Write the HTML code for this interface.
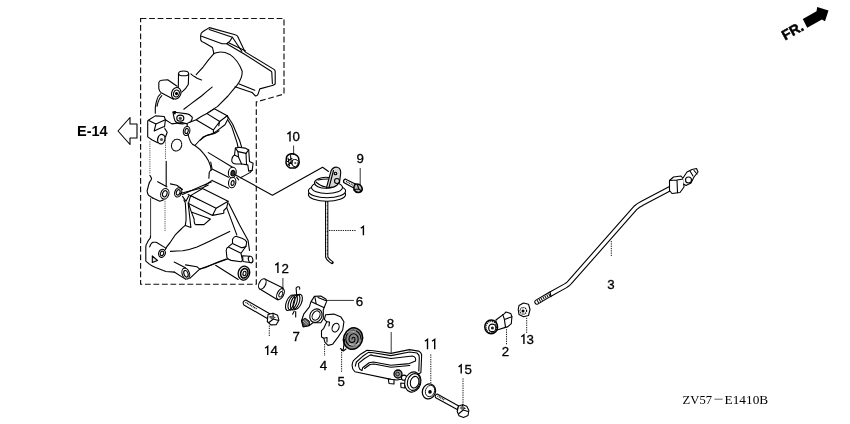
<!DOCTYPE html>
<html><head><meta charset="utf-8">
<style>
html,body{margin:0;padding:0;background:#fff;width:850px;height:424px;overflow:hidden}
svg{display:block;filter:blur(0.3px)}
text{font-family:"Liberation Sans",sans-serif;fill:#000}
.s{fill:none;stroke:#000;stroke-width:1.1;stroke-linecap:round;stroke-linejoin:round}
.w{fill:#fff;stroke:#000;stroke-width:1.1;stroke-linecap:round;stroke-linejoin:round}
.d{fill:none;stroke:#000;stroke-width:0.9;stroke-dasharray:1.3 1}
.t{fill:none;stroke:#000;stroke-width:0.8}
.lb{font-size:13.3px;stroke:#000;stroke-width:0.3}
</style></head><body>
<svg width="850" height="424" viewBox="0 0 850 424">
<!-- dashed box -->
<path d="M140.6,18.5 H284 V94 L256.3,102 V284.2 H140.6 Z" fill="none" stroke="#111" stroke-width="1.15" stroke-dasharray="5.8 2.7"/>

<!-- E-14 -->
<text x="77" y="136" style="font-size:14.5px;font-weight:bold">E-14</text>
<path class="s" d="M118,131 L130,117.5 V124 H137 V138 H130 V144.5 Z"/>

<!-- FR arrow -->
<text x="0" y="0" transform="translate(785,40.5) rotate(-29)" style="font-size:14px;font-weight:bold;stroke:#000;stroke-width:0.5">FR.</text>
<path d="M802.8,18.9 L816.5,11.2 L817.2,7.1 L828.5,10.4 L825,21.2 L821.9,19.5 L807.2,27.7 Z" fill="#000"/>

<!-- ZV57 text -->
<g style="font-family:'Liberation Serif',serif;font-size:12.6px"><text x="682.6" y="403.5" textLength="29.4" lengthAdjust="spacingAndGlyphs" style="font-family:'Liberation Serif',serif">ZV57</text>
<text x="724.6" y="403.5" textLength="43.6" lengthAdjust="spacingAndGlyphs" style="font-family:'Liberation Serif',serif">E1410B</text></g>
<path d="M714.4,399.2 H722.6" stroke="#555" stroke-width="0.9"/>

<!-- labels -->
<text class="lb" x="292.6" y="141.4">0</text>
<text class="lb" x="356.6" y="163.4">9</text>
<text class="lb" x="607.2" y="289.0">3</text>
<text class="lb" x="281.4" y="273.0">2</text>
<text class="lb" x="355.7" y="305.5">6</text>
<text class="lb" x="292.5" y="341.2">7</text>
<text class="lb" x="270.5" y="355.1">4</text>
<text class="lb" x="319.8" y="370.2">4</text>
<text class="lb" x="337.4" y="385.7">5</text>
<text class="lb" x="386.7" y="327.6">8</text>
<text class="lb" x="464.4" y="374.0">5</text>
<text class="lb" x="501.7" y="356.4">2</text>
<text class="lb" x="526.4" y="343.9">3</text>
<g fill="none" stroke="#000" stroke-width="1.4" stroke-linecap="butt" stroke-linejoin="miter">
<path d="M287.4,134.1 L290.0,132.1 V141.4"/>
<path d="M275.3,265.1 L277.9,263.1 V273.0"/>
<path d="M265.1,348.3 L267.7,346.3 V355.0"/>
<path d="M521.3,336.8 L523.9,334.8 V343.9"/>
<path d="M360.8,228.3 L363.4,226.3 V235.2"/>
<path d="M424.9,341.3 L427.5,339.3 V349.2"/>
<path d="M432.1,341.3 L434.7,339.3 V349.2"/>
<path d="M458.6,366.9 L461.2,364.9 V373.5"/>
</g>

<!-- rod 3 -->
<path d="M537,302 L550,294.3 L566,285.5 Q568.5,284 570,282 L635.5,207.8 Q638.5,205 641.5,203.7 L670,188.6" fill="none" stroke="#000" stroke-width="5.4" stroke-linecap="round" stroke-linejoin="round"/>
<path d="M537,302 L550,294.3 L566,285.5 Q568.5,284 570,282 L635.5,207.8 Q638.5,205 641.5,203.7 L670,188.6" fill="none" stroke="#fff" stroke-width="3.2" stroke-linecap="round" stroke-linejoin="round"/>
<path d="M537.5,301.8 L550,294.5" fill="none" stroke="#000" stroke-width="3.2" stroke-dasharray="1 1.2"/>
<path class="s" d="M550,291.7 L551,296.8"/>
<!-- rod end joint -->
<path class="w" d="M669.5,180.5 L673.5,177 L681,176 L683.5,179 L684,187 L680,192.5 L672,193.5 L669.5,190.5 Z"/>
<path class="s" d="M669.5,180.5 L677,180 L683.5,179 M677,180 L677.5,192.8"/>
<path class="w" d="M683,178 L687,172 L692,169.5 L696.5,168.5 L698,172 L694,177 L691,183 L686,185.5 L683.5,184"/>
<circle class="s" cx="688.5" cy="180" r="3"/>
<path class="s" d="M690,171 L693,176 M694,170.5 L697,174"/>

<!-- part 2 -->
<path class="w" d="M495.9,320 L504.4,313.6 L506,312 L510.8,313.6 L511.9,316.8 L511.3,323.7 L507.6,326.9 L505.5,327.4 L497,330 Z"/>
<path class="s" d="M502.8,314.6 L504.4,319.4 L511.9,316.8 M504.4,319.4 L505.5,327.4"/>
<ellipse cx="491.2" cy="326.9" rx="6.4" ry="6.9" fill="#fff" stroke="#000" stroke-width="1.5"/>
<ellipse cx="491.3" cy="327" rx="5.2" ry="5.7" fill="none" stroke="#000" stroke-width="1.3" stroke-dasharray="1 1"/>
<ellipse cx="492.3" cy="327.9" rx="3.6" ry="3.8" fill="#fff" stroke="#000" stroke-width="1.2"/>
<circle cx="492.4" cy="328" r="1.5" fill="#222"/>

<!-- nut 13 -->
<path class="w" d="M519,305.5 L523.5,303 L528.5,304.2 L530,309.5 L528.5,315.5 L523.5,316.8 L519,314.5 L518.2,309.5 Z" stroke-width="1.6"/>
<circle cx="523.3" cy="310.8" r="3.3" fill="none" stroke="#000" stroke-width="1.2" stroke-dasharray="1.1 0.8"/>
<circle cx="523" cy="311" r="1.5" fill="#000"/>

<!-- washer 11 -->
<ellipse cx="428.9" cy="391.4" rx="6.5" ry="7.6" transform="rotate(20 428.9 391.4)" fill="#fff" stroke="#000" stroke-width="1.3"/>
<ellipse cx="430" cy="391" rx="4.5" ry="5.8" transform="rotate(20 430 391)" fill="none" stroke="#000" stroke-width="0.8"/>
<circle cx="430" cy="391.9" r="1.8" fill="#000"/>

<!-- bolt 15 -->
<path class="w" d="M437.2,394 L458.7,406.1 L457.2,409.5 L435.7,397.8 Q434.2,395.3 437.2,394 Z" stroke-width="1.2"/>
<path d="M437.5,396 L444.5,400" fill="none" stroke="#000" stroke-width="1.3" stroke-dasharray="0.9 0.8"/>
<path class="w" d="M458.5,406 L462.5,404.8 L466.8,406.3 L468.9,410.5 L468,415.5 L463.5,417.4 L459,415.8 L457.2,411.5 Z" stroke-width="1.4"/>
<path class="s" d="M462.5,404.8 L463.2,410 L468,411.5 M463.2,410 L459,413.5 M461,407 L465,408.5" stroke-width="0.9"/>
<path d="M459.5,408 L462.5,406 L465,407.5 L462,410 Z" fill="#666"/>

<!-- nut 10 -->
<path d="M286.5,157 Q288,154 292,153.8 Q296.5,154 298.5,157.5 L299.2,162.5 Q298.5,166.5 295,168 L290,168 Q286.5,166.5 286,163 Z" fill="#fff" stroke="#000" stroke-width="1.5"/>
<path class="s" d="M288,158 L289.5,166 M290.5,155.5 L291.5,164 M287.5,161.5 Q290,159 292,158.5 M288,165 L291,162" stroke-width="1"/>
<path d="M292.5,160 Q296.5,158.5 298.3,161.5 Q298.5,165.5 295.5,166.8 Q292.5,167 292,164 Z" fill="#fff" stroke="#000" stroke-width="1"/>
<circle cx="295.3" cy="163" r="1.1" fill="#555"/>

<!-- bolt 9 -->
<path d="M345.2,179 L355.8,184.3 L354.2,188.2 L343.8,182.6 Q342.8,180.2 345.2,179 Z" fill="#fff" stroke="#000" stroke-width="1.2"/>
<path d="M346,181.5 L353.5,185.3" fill="none" stroke="#000" stroke-width="1.2" stroke-dasharray="0.9 0.9"/>
<path d="M355,184.2 Q357,183.6 359.5,184.5 Q362.4,186.5 362.3,189.5 Q361.5,192.3 358.5,192.6 Q355.5,192.4 354,190 Q353.3,187 355,184.2 Z" fill="#bbb" stroke="#000" stroke-width="1.5"/>
<path class="s" d="M357.5,185 L358.8,189 L361.5,191 M358.8,189 L354.3,189.5" stroke-width="0.9"/>

<!-- bolt 14 -->
<path class="w" d="M245.8,300 L270.2,314 L267.3,318.5 L243.8,304.9 Q241.8,301.5 245.8,300 Z" stroke-width="1.2"/>
<path d="M245.5,302.3 L257,309" fill="none" stroke="#000" stroke-width="1.4" stroke-dasharray="0.9 0.8"/>
<path class="w" d="M268,314.5 L273,313.2 L277.6,315.3 L278.9,320.2 L276.2,324.7 L270.8,324.9 L267.3,321.5 Z" stroke-width="1.4"/>
<path class="s" d="M273,313.2 L273.3,319 L278.5,320.5 M273.3,319 L269,322.5 M270,316.5 L275,317.5" stroke-width="0.9"/>
<path d="M269,317 L272.5,315.5 L275,317.5 L271.5,319.5 Z" fill="#666"/>

<!-- collar 12 -->
<path class="w" d="M264.7,279 L283,288 L278,300 L259.8,289 Z"/>
<ellipse cx="262.3" cy="284" rx="3.2" ry="5.5" transform="rotate(27 262.3 284)" fill="#fff" stroke="#000" stroke-width="1.1"/>
<ellipse cx="280.5" cy="294" rx="3.2" ry="5.8" transform="rotate(27 280.5 294)" fill="#fff" stroke="#000" stroke-width="1.1"/>
<ellipse cx="280.8" cy="294.3" rx="1.6" ry="3" transform="rotate(27 280.8 294.3)" fill="none" stroke="#000" stroke-width="0.9"/>


<!-- part 1 -->
<path d="M326.7,199 V256.5 Q327,259 332,262.5" fill="none" stroke="#000" stroke-width="3.3" stroke-linecap="round" stroke-linejoin="round"/>
<path d="M326.7,199 V256.5 Q327,259 331.5,262" fill="none" stroke="#fff" stroke-width="1.2" stroke-linecap="round" stroke-linejoin="round" stroke-dasharray="2.5 1.2"/>
<ellipse class="w" cx="327" cy="194.5" rx="18.6" ry="6.8" stroke-width="1.3"/>
<ellipse class="w" cx="327" cy="191" rx="18.6" ry="6.8"/>
<ellipse class="w" cx="327" cy="187.5" rx="15.5" ry="6"/>
<ellipse class="w" cx="326" cy="182.8" rx="11.5" ry="5.5"/>
<path class="s" d="M316,182 Q320,186 326,187 M318,180 Q322,179 328,179"/>
<path class="w" d="M326.4,188 L331,171 Q333,166.8 337,167.2 Q341,168 340.7,173 L339.6,182.1 Q337,186 333.8,186.9 Z" stroke-width="1.3" style="fill:#d8d8d8"/>
<path class="s" d="M329,187.5 L333.5,170.5"/>
<circle class="s" cx="337" cy="181" r="2.5"/>
<circle class="s" cx="335.5" cy="173.5" r="1.3"/>
<path class="s" d="M233.8,174 L272.4,195.2 L322.6,167.2 L328.5,171.5" stroke-width="1"/>

<!-- spring 7 -->
<g class="s" stroke-width="1.15">
<ellipse cx="290.2" cy="302.8" rx="3.9" ry="8.2" transform="rotate(22 290.2 302.8)"/>
<ellipse cx="292.7" cy="302.5" rx="3.9" ry="8.2" transform="rotate(22 292.7 302.5)"/>
<ellipse cx="295.2" cy="302.2" rx="3.9" ry="8.2" transform="rotate(22 295.2 302.2)"/>
<ellipse cx="297.7" cy="301.9" rx="3.9" ry="8" transform="rotate(22 297.7 301.9)"/>
<path d="M296.6,294.3 L296.1,288 Q297.5,286.3 299.3,287 Q300,288 299.7,289.2"/>
<path d="M294.3,311 L292.6,314.3 M295.7,311.5 L295.7,317"/>
</g>
<!-- lever 6 -->
<path class="w" d="M310.9,301.9 L314.4,296.4 L320.8,296 L325.8,298.9 L326.8,300.9 L323.3,309.8 L323.3,318.8 L320.8,322.7 L312.9,322.7 L308.9,325.7 L303,326.7 L301.5,320.8 L303.9,313.8 L309.4,306.9 Z" stroke-width="1.3"/>
<path class="s" d="M315,297.6 L316.2,304 L323.8,307.5 M316.2,304 L311.5,301.8 M318,297.5 L325.5,300.5"/>
<ellipse class="w" cx="315.9" cy="315.6" rx="5.9" ry="7" transform="rotate(30 315.9 315.6)" stroke-width="1.4"/>
<ellipse class="s" cx="316.1" cy="315.5" rx="3.6" ry="5" transform="rotate(30 316.1 315.5)" stroke-width="1.2"/>
<path d="M301.8,320.2 L305.2,318.3 L309.3,321.2 L309.4,325.4 L303.4,327 Z" fill="#555" stroke="#000" stroke-width="1"/>
<path d="M303,321 L307.5,325 M304.5,320 L308.5,323.5" stroke="#fff" stroke-width="0.6"/>

<!-- plate 4 -->
<path class="w" d="M325.6,314.7 L333.9,314.1 L341,317.1 L343.9,321.8 L342.7,330 L338,337.1 L332.7,344.2 L328,345.4 L325,342.4 L323.8,338.3 L321.5,337 L321.5,330.6 L323.8,328.3 L326.8,321.8 L324.4,319.4 Z" stroke-width="1.3"/>
<ellipse class="s" cx="335.6" cy="327.7" rx="3.3" ry="4.5" transform="rotate(25 335.6 327.7)" stroke-width="2"/>
<path class="s" d="M326.8,321.8 L329.5,322 L329,326 M323.8,338.3 L327,337.5 L327,342"/>

<!-- spiral spring 5 -->
<ellipse cx="353" cy="338.6" rx="9.4" ry="10.9" transform="rotate(20 353 338.6)" fill="#8a8a8a" stroke="#000" stroke-width="1.5"/>
<path class="s" d="M353.5,339 m-1.5,0 a1.5,1.7 0 1 1 3,0 a3,3.4 0 1 1 -6,0 a4.6,5.2 0 1 1 9.2,0 a6.2,7 0 1 1 -12.4,0 a7.6,8.6 0 1 1 15.2,0" stroke-width="1.2"/>
<path d="M347,333 Q350,330 356,331 M349,344 Q354,347 359,343" fill="none" stroke="#fff" stroke-width="0.7"/>
<path class="s" d="M344.5,339.5 L343.3,349.5 M340.5,348.5 L343.3,351 L346,349" stroke-width="1.3"/>
<!-- lever 8 -->
<path class="w" d="M352.1,365.5 Q352.5,361 354.2,359.9 L360.6,354.2 L367,350.3 L373.4,350.7 L391,353.4 L409.4,349.6 L418.6,351.1 Q422,353 421.6,356.5 L420.9,372.5 L414,377 L397,380 L391,379.4 L355,371.8 Q352,369 352.1,365.5 Z" stroke-width="1.4"/>
<path class="s" d="M355.3,366.2 L356.4,362 L362.7,356.3 L368.4,352.4 L373.4,352.8 L391,355.6 L409.5,352 L417,353 Q419.5,355 419.3,357.5 L418.8,371"/>
<path class="s" d="M362,370.5 L362.7,367.7 L369.1,362.7 L373.4,362 L391,365.3 L409.4,363.6 L415.5,361 Q416.5,357 412.4,356 L391,358.5 L373.4,355.6 L370.5,354.9 L364.2,358.8 L358.5,363.4 Q358.3,367 360,369.5 Z" stroke-width="1.2"/>
<path class="s" d="M364.5,368.5 L370,364.5 L374,364 L391,367.2 L409.8,365.5" stroke-width="0.8"/>
<path class="w" d="M388.3,379 L394,379.8 L394,384 L389,383.5 Z"/>
<path class="w" d="M400.7,383 L404.8,383.5 L404.8,388 L401,387.5 Z"/>
<circle cx="398" cy="374" r="4" fill="#999" stroke="#000" stroke-width="1.3"/>
<circle cx="397.6" cy="374" r="1.8" fill="none" stroke="#000" stroke-width="0.8"/>
<circle class="w" cx="404" cy="377.7" r="2.6" stroke-width="1.2"/>
<ellipse class="w" cx="412.8" cy="382" rx="8" ry="10.2" transform="rotate(15 412.8 382)" stroke-width="1.4"/>
<ellipse class="s" cx="413.8" cy="382" rx="6.3" ry="8.5" transform="rotate(15 413.8 382)" stroke-width="1"/>
<ellipse class="s" cx="414.6" cy="382.2" rx="4.2" ry="5.9" transform="rotate(15 414.6 382.2)" stroke-width="1.4"/>


<!-- MANIFOLD -->
<g class="s" id="man">
<!-- flange -->
<path d="M200.7,36.2 Q200.3,33.2 203,31.5 L209.4,27.6 L235.2,34.8 Q237,35.2 237.6,36.2 L245.1,51.9 L274,69.4 Q275.2,70.2 275.2,71.5 L275.2,84 L273.2,85.3 L259.8,88.9 L258.4,93.1 Q257.5,96 255.5,96 L252,92.4"/>
<path d="M209.2,29.5 L232.4,37.2 L241.8,51.3"/>
<path d="M201.6,36.2 L222,43.8 L226.7,43.8 Q230,42 232.4,37.2"/>
<path d="M228.1,42.4 L245.6,50.9"/>
<path d="M200.7,36.2 L200.7,40 Q201.5,42.2 204.4,42.8 L212.5,47.5 L213.9,53.6"/>
<path d="M226.7,43.8 L244.6,54.3 L270.8,71 Q271.8,71.8 271.8,72.6 L272.4,83.7"/>
<path d="M235,86.7 L252,92.4 M239.2,83.9 L254.8,90.3"/>
<path d="M213.9,53.6 Q208,60 203.3,66.8 L196.2,74.7"/>
<path d="M190.9,73.9 Q193,76 194.4,76.5 L197.1,78.3 L201.5,80"/>
<path d="M213.9,53.6 Q221,50 229.8,54.4 Q238,60 242.2,71.2 Q242.5,78 236.9,85.4 Q232,91 228,96 Q222,102 217.4,106.6 Q210,111 206.8,113.6 Q200,117 196.2,119.8 L189.1,122.5"/>
<path d="M212.1,87.1 Q206,92 201.5,96 Q196,100 190.9,103.9 L183.8,109.2"/>
<!-- bosses upper -->
<path d="M178.5,73.8 L178.3,87.4 M188.7,73.8 L188.3,84.5 Q186,89 181.8,92.1"/>
<ellipse cx="183.6" cy="73.4" rx="5" ry="2.4"/>
<path d="M158.8,82.7 Q159.5,80.5 161.8,80.3 L167.7,79.7 L177.1,86.2 M158.8,82.7 L158.8,88.6 Q159.5,91.5 161.2,92.7 L173.6,99.2"/>
<ellipse cx="176.2" cy="93.3" rx="4.6" ry="5.9" transform="rotate(20 176.2 93.3)" fill="#fff"/>
<ellipse cx="176.4" cy="93.5" rx="2.8" ry="3.5" transform="rotate(20 176.4 93.5)"/>
<circle cx="176.5" cy="93.6" r="1" fill="#000"/>
<path d="M160.6,93.9 Q158,96 157.1,99.2 Q155.8,103 155.3,107.5 L155.3,113.3 M161.8,95.7 Q159.5,98 158.3,101.6 Q157.3,104 157.1,106.3"/>
<!-- upper-left block -->
<path d="M148.3,120.3 L155.3,115.9 L164.2,116.5 L165.4,119.8 L155.9,123.9 Z"/>
<path d="M147.7,120.9 L147.7,136.9 L151.8,139.8 L157.7,142.8"/>
<path d="M155.9,123.9 L154.2,131 L159.5,128.6 L163.6,126.8 M165.4,119.8 L164.5,127"/>
<path d="M165.4,119.8 L171.9,123.9 L182,122.5 L187.2,123.9"/>
<ellipse cx="161.3" cy="139.2" rx="3.6" ry="4.8" transform="rotate(15 161.3 139.2)" fill="#fff" stroke-width="1.3"/>
<circle cx="161.5" cy="139.5" r="1.6" fill="#555" stroke="none"/>
<path d="M164.8,128.6 L167.2,132.2 L165.5,137"/>
<path d="M173,112.1 Q174,119 175.4,121.5 Q178,124 182.5,123.9 Q189,123.5 190.8,121.5 Q193,118.5 192,116.8 Q189,114 187.2,113.9 L179,112.7 Z"/>
<ellipse cx="180.3" cy="118.2" rx="3.5" ry="3" fill="#fff" stroke-width="1.2"/>
<circle cx="180.3" cy="118.3" r="1.6" fill="#444" stroke="none"/>
<path d="M173,112.1 L175.5,111.5 L175,114 Z" fill="#000"/>
<ellipse cx="186.6" cy="131" rx="3.2" ry="4.6" transform="rotate(15 186.6 131)" fill="#fff"/>
<ellipse cx="186.6" cy="131" rx="1.6" ry="2.6" transform="rotate(15 186.6 131)"/>
<path d="M187.2,123.9 L187.2,126.5"/>
<ellipse cx="176.6" cy="145.1" rx="5" ry="6" transform="rotate(20 176.6 145.1)" stroke-dasharray="1.3 1"/>
</g>
<g fill="none" stroke="#333" stroke-width="0.8" stroke-dasharray="1.2 1">
<path d="M149.9,141.4 V174"/>
<path d="M165.5,138 V160"/>
<path d="M165,199 V231"/>
</g>
<g class="s">
<!-- body mid -->
<path d="M149.9,175.4 Q152,178 151.3,179.6 Q149,182 148.5,185.3 L147.1,191 Q147.5,194 148.5,195.2 L152.7,198"/>
<path d="M166.2,161.2 L166.2,186.7 M157.7,181.7 L166.9,186.7"/>
<ellipse cx="164.8" cy="193.8" rx="4" ry="5.4" transform="rotate(20 164.8 193.8)" fill="#fff"/>
<ellipse cx="164.8" cy="193.8" rx="2.2" ry="3.2" transform="rotate(20 164.8 193.8)"/>
<path d="M170.4,183.9 L176.8,185.3 L182.5,189.5"/>
<ellipse cx="178.2" cy="192.4" rx="3.4" ry="4.8" transform="rotate(20 178.2 192.4)" fill="#fff"/>
<ellipse cx="178.2" cy="192.4" rx="1.8" ry="2.8" transform="rotate(20 178.2 192.4)"/>
<path d="M182.5,194.5 L200,186.7 L211.2,182 M188.1,194.5 L200,200"/>
<path d="M187.8,133.5 Q189,139 190.7,142 Q192,144.5 194.9,145.5 Q200,149 203.4,153.3 Q206.5,157 208.3,160.4 L210.5,166 L211.2,170.3"/>
<path d="M194.9,145.5 L200,140 L206.2,135.6 L214.7,133.5 L219,130.7"/>
<path d="M208.3,152.6 L232.5,167.3"/>
<path d="M212.1,169.1 L228.5,177.3 M212.1,180.4 L228.5,188.3 M210.7,162 L212.1,169.1 Q209.5,171 209.2,172.6 L208.9,178.3 M212.1,180.4 L205,185.3"/>
<ellipse cx="232.2" cy="182.5" rx="3.6" ry="5.3" transform="rotate(10 232.2 182.5)" fill="#fff"/>
<ellipse cx="232.6" cy="183" rx="1.5" ry="2.4" transform="rotate(10 232.6 183)"/>
<ellipse cx="232.3" cy="172.5" rx="3.9" ry="5.3" transform="rotate(10 232.3 172.5)" fill="#fff"/>
<ellipse cx="232.9" cy="173.2" rx="2" ry="2.8" transform="rotate(10 232.9 173.2)" fill="#333"/>
<path d="M236.7,177.3 L238.7,179.8 M240.4,177.7 Q246,175 250.3,172.4 L251.5,170.7 L252.2,170.2"/>
<!-- wire + sensor -->
<path d="M227.2,115.7 L232.7,124.2 L239.8,141 L241.6,147.2 M228.2,120.5 L231.8,126.8 L237.1,142.8 L238,147.2"/>
<path d="M235.4,148.1 L238.9,147.2 L245.1,148.1 L248.7,149.9 L246,153.4 L238,151.6 Z" fill="#fff"/>
<path d="M235.4,148.1 L234.5,155 M238,151.6 L238.5,157 M246,153.4 L246.5,164 M248.7,149.9 L249.5,161.4 L253.1,163.2 L252.2,170.2 L248.7,171.1 L247.8,164.9 L241.6,164"/>
<path d="M234.5,155 Q231.5,157 231.8,161.4 Q233,164.5 237.1,164 L241.6,164 L238.5,157 Z"/>
<!-- right block -->
<path d="M207,113.6 L214.4,108.8 L227.2,115.7 L219.7,121.5 Z" fill="#fff"/>
<path d="M196.4,120 L213.4,130 L219.7,121.5 M219.7,121.5 L218.7,125.8 M227.2,115.7 L228.2,118.4 L225,124.7 L216.5,131.1 L213.4,133.2 L213.4,130 M213.4,133.2 Q208,135 203,137 L200.6,140"/>
<!-- body lower -->
<path d="M152.7,198 L159.8,201.3 L163.3,199.9"/>
<path d="M150.6,198.5 L150.6,236.7" stroke-width="0.8"/>
<path d="M150.4,236 L150.4,237.8 Q148,240.5 147.1,243 Q145.8,245 145.8,246.9 L145.8,261.1 L149.7,264.4 Q152,266 155.6,267.6 L165.9,271.5 L174.4,272.1"/>
<path d="M149.7,246.9 Q151,243 153,242.3 L156.2,242.3 L165.9,248.1"/>
<ellipse cx="162" cy="253.3" rx="3.3" ry="4.1" transform="rotate(20 162 253.3)" fill="#fff"/>
<ellipse cx="162" cy="253.4" rx="1.7" ry="2.3" transform="rotate(20 162 253.4)"/>
<path d="M152.3,255.9 L152.3,262.4 L157.5,260.5 Z" fill="#ddd"/>
<path d="M165.3,249.4 Q167,246 169.8,243 L175,235.2 L180.2,230 Q183,227 185.3,225.4 Q186.5,220 186,214 L185.3,202.7 L183.9,199.9"/>
<path d="M182.5,196.4 L186,201.3 L188.8,195.7 M188.1,202.7 L190.9,227.5 M185.3,225.4 L190.9,227.5"/>
<path d="M170.5,251.4 Q177,251 182.8,250.7 Q190,249.5 197,246.9 Q204,244 210,241 Q220,236 229.7,231.4"/>
<path d="M174.2,262.1 L185.5,267.7 M185.5,264.9 L196.9,266.7 L199.7,269.2 L189.8,278.4 M174.2,272 L185.5,279.1 M199.7,269.2 Q203,268 205,267.7 Q210,265.5 218,262 L226.2,259"/>
<ellipse cx="185.8" cy="273.6" rx="3.6" ry="5.6" transform="rotate(-20 185.8 273.6)" fill="#fff"/>
<ellipse cx="186" cy="273.8" rx="2" ry="3.4" transform="rotate(-20 186 273.8)"/>
<!-- rib block -->
<path d="M180,193.5 L202.6,187.8 L208.3,185"/>
<path d="M190.6,195.6 L202.6,188.5 L228.1,201.3 L216.1,208.3 Z" fill="#fff"/>
<path d="M190.6,195.6 L188.5,203.4 L212.5,215.4 L216.1,208.3 M228.1,201.3 L226.7,207.6 L223.8,210.5 L223.8,213.3 L212.5,215.4"/>
<path d="M188.5,203.4 L191.3,211.9 L210.4,219 M194.1,219 Q194,224 195.6,224.6 L204,224.6 L210.4,219 M191.3,211.9 Q193,216 194.1,219"/>
<path d="M226.7,207.6 L236.8,234.9 M228.8,203.4 L239.6,225 L248.1,240.6 L249.5,250.5"/>
<!-- right lower boss -->
<path d="M232.5,239.2 Q234,236.5 236.1,236.3 L242.5,238.4 Q246,240 246.7,242 L246,246.2 Q243.5,248 241,247.6 L232.5,243.4 Z"/>
<path d="M226.2,250.5 Q226.5,247.5 228.3,246.9 L232.5,243.4 M226.2,250.5 L226.9,257.5 Q228,259.5 231.1,260.4 L241,261.8 L242.5,260.4 M228.3,246.9 L241,253.3 L242.5,260.4 M241,253.3 L246,246.2"/>
<path d="M242.6,255.8 L249.5,256.2 L251.5,262.8 L243,261.5 Z" fill="#fff"/>
<ellipse cx="250.6" cy="259.5" rx="2.2" ry="3.3" transform="rotate(-15 250.6 259.5)" fill="#fff"/>
<path d="M200,268.9 L227.6,259 M215.6,265.3 L238.2,279.5"/>
<ellipse cx="243.9" cy="273.1" rx="5.7" ry="7" transform="rotate(15 243.9 273.1)" fill="#fff" stroke-width="1.3"/>
<ellipse cx="244.3" cy="273.3" rx="3.6" ry="4.8" transform="rotate(15 244.3 273.3)" stroke-dasharray="1.2 0.8" stroke-width="1.6"/>
<ellipse cx="244.5" cy="273.5" rx="1.5" ry="2.2" transform="rotate(15 244.5 273.5)"/>
</g>

<!-- leaders -->
<g class="t">
<path d="M293.6,145.5 V155"/>
<path d="M360.2,168 V185"/>
<path d="M282.9,278 V291"/>
<path d="M325.6,300.4 H353.9"/>
<path d="M391.2,332 V352.8"/>
</g>
<g class="d">
<path d="M329,230.5 H356"/>
<path d="M611.3,241 V256"/>
<path d="M269.3,325.5 V336.3"/>
<path d="M324.6,344 V356"/>
<path d="M341.6,349.8 V372"/>
<path d="M430.8,354.4 V383"/>
<path d="M463,378.4 V405"/>
<path d="M506.5,329.2 V344.7"/>
<path d="M526.7,317.8 V333"/>
</g>

</svg>
</body></html>
